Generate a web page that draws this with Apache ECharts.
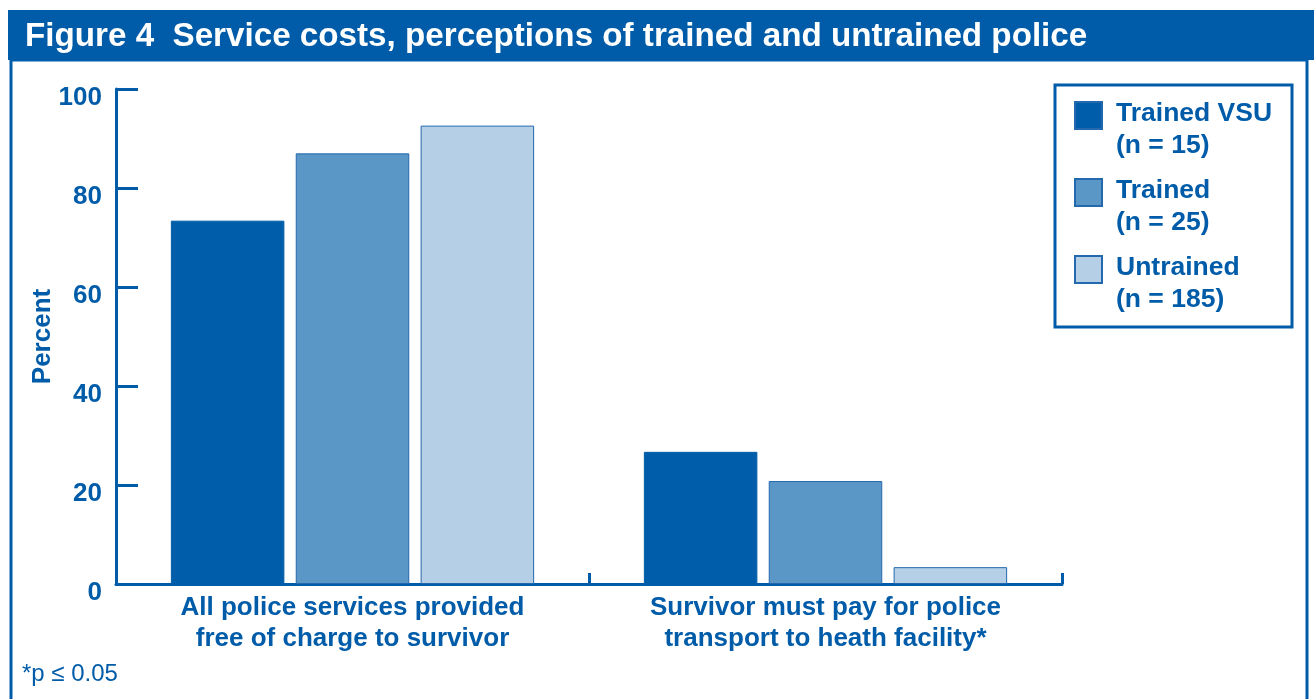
<!DOCTYPE html>
<html>
<head>
<meta charset="utf-8">
<script src="https://cdn.jsdelivr.net/npm/echarts@6/dist/echarts.min.js"></script>
<style>
  html, body { margin: 0; padding: 0; background: #fff; }
  #chart { width: 1314px; height: 699px; }
</style>
</head>
<body>
<div id="chart"></div>
<script>
// data
const categories = [
  'All police services provided\nfree of charge to survivor',
  'Survivor must pay for police\ntransport to heath facility*'
];
const seriesNames = ['Trained VSU', 'Trained', 'Untrained'];
const sampleSizes = ['(n = 15)', '(n = 25)', '(n = 185)'];
const trainedVsu = [73.4, 26.7];
const trained = [87.0, 20.8];
const untrained = [92.6, 3.4];
const yTicks = [0, 20, 40, 60, 80, 100];

const BLUE = '#005ca8';
const FONT = '"Liberation Sans", Arial, sans-serif';
const colors = ['#005da9', '#5a97c7', '#b5cfe7'];
// square swatch in the top-left of a taller box, so it sits beside the first text line
const swatch = 'path://M0,0L27,0L27,27L0,27ZM36,56';

const chart = echarts.init(document.getElementById('chart'));

const values = [trainedVsu, trained, untrained];
const series = seriesNames.map((name, i) => ({
  name: name,
  type: 'bar',
  data: values[i],
  barWidth: '24%',
  barGap: '10%',
  itemStyle: {
    color: colors[i],
    borderColor: i === 0 ? colors[0] : '#2468ae',
    borderWidth: 1
  }
}));

chart.setOption({
  animation: false,
  textStyle: { fontFamily: FONT },
  title: {
    text: 'Figure 4  Service costs, perceptions of trained and untrained police',
    left: 20,
    top: 15,
    textStyle: { color: '#fff', fontSize: 33.2, fontWeight: 'bold', fontFamily: FONT }
  },
  graphic: [
    { type: 'rect', shape: { x: 8, y: 10, width: 1310, height: 50 }, style: { fill: BLUE }, z: -1 },
    { type: 'rect', shape: { x: 11, y: 60, width: 1296, height: 700 },
      style: { fill: null, stroke: BLUE, lineWidth: 3 }, z: -1 },
    { type: 'rect', shape: { x: 1055, y: 85, width: 237, height: 242 },
      style: { fill: null, stroke: BLUE, lineWidth: 3 } },
    { type: 'text', x: 22, y: 662,
      style: { text: '*p \u2264 0.05', fill: BLUE, fontSize: 24, fontFamily: FONT } }
  ],
  legend: {
    orient: 'vertical',
    left: 1074,
    top: 98,
    padding: 0,
    icon: swatch,
    itemWidth: 36,
    itemHeight: 56,
    itemGap: 13,
    data: seriesNames,
    formatter: name => name + '\n' + sampleSizes[seriesNames.indexOf(name)],
    itemStyle: { borderColor: '#2468ae', borderWidth: 2 },
    textStyle: {
      color: BLUE, fontSize: 26.5, fontWeight: 'bold', fontFamily: FONT, lineHeight: 32
    }
  },
  grid: { left: 116, right: 252, top: 89, bottom: 115 },
  xAxis: {
    type: 'category',
    data: categories,
    axisLine: { lineStyle: { color: BLUE, width: 3 } },
    axisTick: { show: true, inside: true, length: 11, lineStyle: { color: BLUE, width: 3 } },
    axisLabel: {
      color: BLUE, fontSize: 26, fontWeight: 'bold', fontFamily: FONT,
      lineHeight: 31, margin: 8, interval: 0
    }
  },
  yAxis: {
    type: 'value',
    min: yTicks[0],
    max: yTicks[yTicks.length - 1],
    interval: yTicks[1] - yTicks[0],
    name: 'Percent',
    nameLocation: 'middle',
    nameRotate: 90,
    nameGap: 60,
    nameMoveOverlap: false,
    nameTextStyle: { color: BLUE, fontSize: 26, fontWeight: 'bold', fontFamily: FONT },
    splitLine: { show: false },
    axisLine: { show: true, lineStyle: { color: BLUE, width: 3 } },
    axisTick: { show: true, inside: true, length: 22, lineStyle: { color: BLUE, width: 3 } },
    axisLabel: {
      color: BLUE, fontSize: 26, fontWeight: 'bold', fontFamily: FONT,
      margin: 14, verticalAlign: 'top', lineHeight: 18
    }
  },
  series: series
});
</script>
</body>
</html>
